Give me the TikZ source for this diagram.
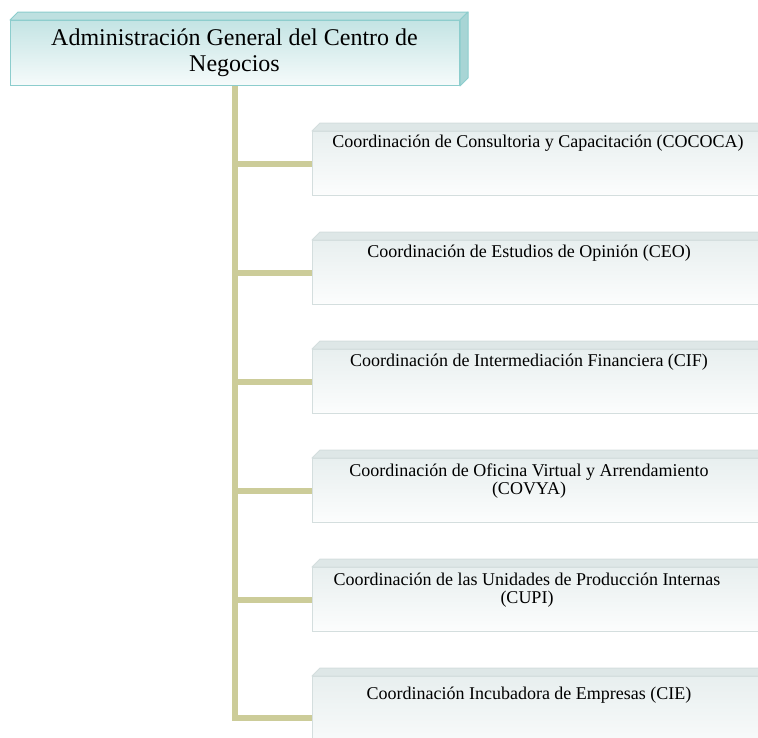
\documentclass[tikz,border=0pt]{standalone}
\usepackage{fontspec}
\setmainfont{Liberation Serif}
\definecolor{topborder}{RGB}{140,205,205}
\definecolor{topA}{RGB}{196,228,228}
\definecolor{topB}{RGB}{246,251,251}
\definecolor{topface}{RGB}{190,224,224}
\definecolor{topside}{RGB}{168,213,213}
\definecolor{chborder}{RGB}{212,222,222}
\definecolor{chA}{RGB}{232,239,239}
\definecolor{chB}{RGB}{252,253,253}
\definecolor{chface}{RGB}{222,231,231}
\definecolor{chside}{RGB}{214,224,224}
\definecolor{khaki}{RGB}{204,204,153}
\newcommand\facesof[4]{%
  \path[fill=#2,draw=#4,line width=1pt,line join=round] (#1.north west) -- ++(8,-8) -- ([shift={(8,-8)}]#1.north east) -- (#1.north east) -- cycle;
  \path[fill=#3,draw=#4,line width=1pt,line join=round] (#1.north east) -- ++(8,-8) -- ([shift={(8,-8)}]#1.south east) -- (#1.south east) -- cycle;}
\newcommand\lines[1]{\parbox[t]{460pt}{\centering #1}}
\tikzset{
  topbox/.style={draw=topborder, line width=1pt, top color=topA, bottom color=topB, minimum width=449pt, minimum height=65pt, anchor=north west, inner sep=0pt},
  childbox/.style={draw=chborder, line width=1pt, top color=chA, bottom color=chB, minimum width=480pt, minimum height=64pt, anchor=north west, inner sep=0pt},
  branch/.style={draw=khaki, line width=6pt},
  toptext/.style={anchor=base, inner sep=0pt, font=\fontsize{24}{26}\selectfont},
  chtext/.style={anchor=base, inner sep=0pt, font=\fontsize{18}{18}\selectfont},
}
\begin{document}
\begin{tikzpicture}[x=1pt,y=-1pt]
\useasboundingbox (0,0) rectangle (758,737);
\clip (0,0) rectangle (758,737);
% boxes
\node[topbox] (top) at (10,20) {};
\facesof{top}{topface}{topside}{topborder}
\node[childbox] (c1) at (312,131) {};
\node[childbox] (c2) at (312,240) {};
\node[childbox] (c3) at (312,349) {};
\node[childbox] (c4) at (312,458) {};
\node[childbox] (c5) at (312,567) {};
\node[childbox, minimum height=82pt] (c6) at (312,676) {};
\foreach \c in {c1,c2,c3,c4,c5,c6}{\facesof{\c}{chface}{chside}{chborder}}
% connectors
\draw[branch] (top.south) |- (c6.west);
\foreach \c in {c1,c2,c3,c4,c5}{\draw[branch] (top.south |- \c.west) -- (\c.west);}
% texts
\node[toptext] (ttop) at (234.5,45) {\lines{Administración General del Centro de\\Negocios}};
\node[chtext] (t1) at (538,147) {\lines{Coordinación de Consultoria y Capacitación (COCOCA)}};
\node[chtext] (t2) at (529,257) {\lines{Coordinación de Estudios de Opinión (CEO)}};
\node[chtext] (t3) at (529,366) {\lines{Coordinación de Intermediación Financiera (CIF)}};
\node[chtext] (t4) at (529,476) {\lines{Coordinación de Oficina Virtual y Arrendamiento\\(COVYA)}};
\node[chtext] (t5) at (527,585) {\lines{Coordinación de las Unidades de Producción Internas\\(CUPI)}};
\node[chtext] (t6) at (529,699) {\lines{Coordinación Incubadora de Empresas (CIE)}};
\end{tikzpicture}
\end{document}
